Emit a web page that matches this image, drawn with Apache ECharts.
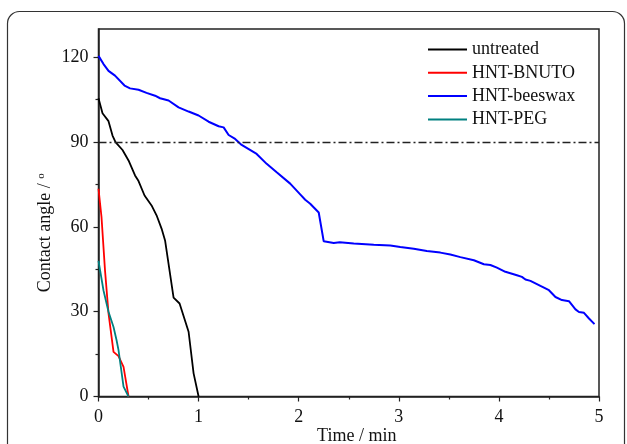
<!DOCTYPE html>
<html>
<head>
<meta charset="utf-8">
<script src="https://cdn.jsdelivr.net/npm/echarts@6/dist/echarts.min.js"></script>
<style>
  html, body { margin: 0; padding: 0; background: #fff; }
  #chart { width: 627px; height: 444px; }
</style>
</head>
<body>
<div id="chart"></div>
<script>
// time in min, contact angle in degrees
var untreatedTime = [0, 0.04, 0.10, 0.14, 0.17, 0.24, 0.30, 0.365, 0.40, 0.46, 0.53, 0.58, 0.63, 0.665, 0.75, 0.81, 0.90, 0.95, 1.0];
var untreatedAngle = [105.5, 100.2, 97.4, 92.3, 90, 87.2, 83.5, 78.2, 76.2, 71.1, 67.6, 64.1, 59.4, 55.2, 35, 32.9, 22.9, 8.2, 0];

var bnutoTime = [0, 0.03, 0.065, 0.10, 0.15, 0.20, 0.25, 0.30];
var bnutoAngle = [73.5, 63.5, 44.6, 29.4, 15.8, 14.3, 10.5, 0];

var beeswaxTime = [0, 0.05, 0.10, 0.165, 0.26, 0.315, 0.40, 0.48, 0.565, 0.615, 0.70, 0.80, 0.90, 1.0, 1.10, 1.20, 1.25, 1.30, 1.365, 1.43, 1.58, 1.68, 1.78, 1.915, 2.015, 2.065, 2.115, 2.20, 2.25, 2.35, 2.41, 2.55, 2.75, 2.915, 3.015, 3.15, 3.28, 3.415, 3.515, 3.615, 3.75, 3.85, 3.915, 3.98, 4.065, 4.18, 4.23, 4.265, 4.315, 4.415, 4.50, 4.565, 4.63, 4.70, 4.765, 4.80, 4.85, 4.90, 4.955];
var beeswaxAngle = [120.5, 117.6, 115.2, 113.5, 110, 109, 108.5, 107.4, 106.4, 105.5, 104.7, 102.3, 100.8, 99.4, 97.2, 95.6, 95.2, 92.5, 91.1, 89, 85.8, 82.3, 79.3, 75.3, 71.5, 69.6, 68.2, 65.1, 54.9, 54.3, 54.6, 54.1, 53.7, 53.4, 52.9, 52.3, 51.5, 50.9, 50.2, 49.3, 48.2, 46.8, 46.5, 45.6, 44.1, 42.9, 42.3, 41.4, 40.9, 39.1, 37.6, 35.2, 34.1, 33.7, 30.8, 29.9, 29.6, 27.6, 25.6];

var pegTime = [0, 0.05, 0.10, 0.15, 0.18, 0.20, 0.25, 0.30];
var pegAngle = [48, 37.5, 30, 24.6, 20, 16.4, 3.5, 0];

var refAngle = 90;
var yTicks = [0, 30, 60, 90, 120];
var yMinorTicks = [15, 45, 75, 105];

function pairs(xs, ys) {
  return xs.map(function (x, i) { return [x, ys[i]]; });
}

var font = 'Liberation Serif';
var chart = echarts.init(document.getElementById('chart'));

chart.setOption({
  animation: false,
  backgroundColor: '#fff',
  textStyle: { fontFamily: font },
  grid: {
    left: 98.5,
    right: 28,
    top: 29,
    bottom: 47.5,
    outerBoundsMode: 'none',
    containLabel: false,
    show: true,
    borderColor: '#222',
    borderWidth: 1.5
  },
  graphic: [
    {
      type: 'rect',
      shape: { x: 7.5, y: 11.5, width: 617, height: 470, r: 12 },
      style: { fill: 'none', stroke: '#333', lineWidth: 1.2 },
      z: -1
    }
  ],
  legend: {
    orient: 'vertical',
    left: 428,
    top: 40.5,
    padding: 0,
    icon: 'rect',
    itemWidth: 39,
    itemHeight: 2,
    itemGap: 5.3,
    textStyle: { fontFamily: font, fontSize: 18, color: '#111', lineHeight: 17 },
    data: ['untreated', 'HNT-BNUTO', 'HNT-beeswax', 'HNT-PEG']
  },
  xAxis: {
    type: 'value',
    min: 0,
    max: 5,
    interval: 1,
    name: 'Time / min',
    nameLocation: 'middle',
    nameMoveOverlap: false,
    nameGap: 31,
    nameTextStyle: { fontFamily: font, fontSize: 18, color: '#111', padding: [0, 0, 0, 16] },
    axisLine: { lineStyle: { color: '#222', width: 1.5 } },
    axisTick: { inside: false, length: 5, lineStyle: { color: '#222', width: 1.2 } },
    minorTick: { show: true, splitNumber: 2, length: 3, lineStyle: { color: '#222', width: 1.2 } },
    axisLabel: { fontFamily: font, fontSize: 18, color: '#111', margin: 12 },
    splitLine: { show: false }
  },
  yAxis: [
    {
      type: 'value',
      min: 0,
      max: 130,
      interval: 30,
      name: 'Contact angle / {sup|o}',
      nameLocation: 'middle',
      nameMoveOverlap: false,
      nameRotate: 90,
      nameGap: 43,
      nameTextStyle: {
        fontFamily: font, fontSize: 18, color: '#111', padding: [0, 40, 0, 0],
        rich: { sup: { fontFamily: font, fontSize: 11, color: '#111', padding: [0, 0, 9, 0] } }
      },
      axisLine: { show: true, lineStyle: { color: '#222', width: 1.5 } },
      axisTick: { show: true, inside: false, length: 5, customValues: yTicks, lineStyle: { color: '#222', width: 1.2 } },
      axisLabel: { fontFamily: font, fontSize: 18, color: '#111', margin: 10, customValues: yTicks },
      splitLine: { show: false }
    },
    {
      type: 'value',
      min: 0,
      max: 130,
      position: 'left',
      axisLine: { show: false },
      axisTick: { show: true, inside: false, length: 3, customValues: yMinorTicks, lineStyle: { color: '#222', width: 1.2 } },
      axisLabel: { show: false },
      splitLine: { show: false }
    }
  ],
  series: [
    {
      name: 'untreated',
      type: 'line',
      symbol: 'none',
      data: pairs(untreatedTime, untreatedAngle),
      itemStyle: { color: '#000' },
      lineStyle: { color: '#000', width: 1.8 },
      markLine: {
        silent: true,
        symbol: 'none',
        label: { show: false },
        lineStyle: { color: '#222', width: 1.4, type: [8, 3, 2, 3] },
        data: [{ yAxis: refAngle }]
      }
    },
    {
      name: 'HNT-BNUTO',
      type: 'line',
      symbol: 'none',
      data: pairs(bnutoTime, bnutoAngle),
      itemStyle: { color: '#ff0000' },
      lineStyle: { color: '#ff0000', width: 1.8 }
    },
    {
      name: 'HNT-beeswax',
      type: 'line',
      symbol: 'none',
      data: pairs(beeswaxTime, beeswaxAngle),
      itemStyle: { color: '#0000ff' },
      lineStyle: { color: '#0000ff', width: 2 }
    },
    {
      name: 'HNT-PEG',
      type: 'line',
      symbol: 'none',
      data: pairs(pegTime, pegAngle),
      itemStyle: { color: '#008080' },
      lineStyle: { color: '#008080', width: 1.8 }
    }
  ]
});
</script>
</body>
</html>
